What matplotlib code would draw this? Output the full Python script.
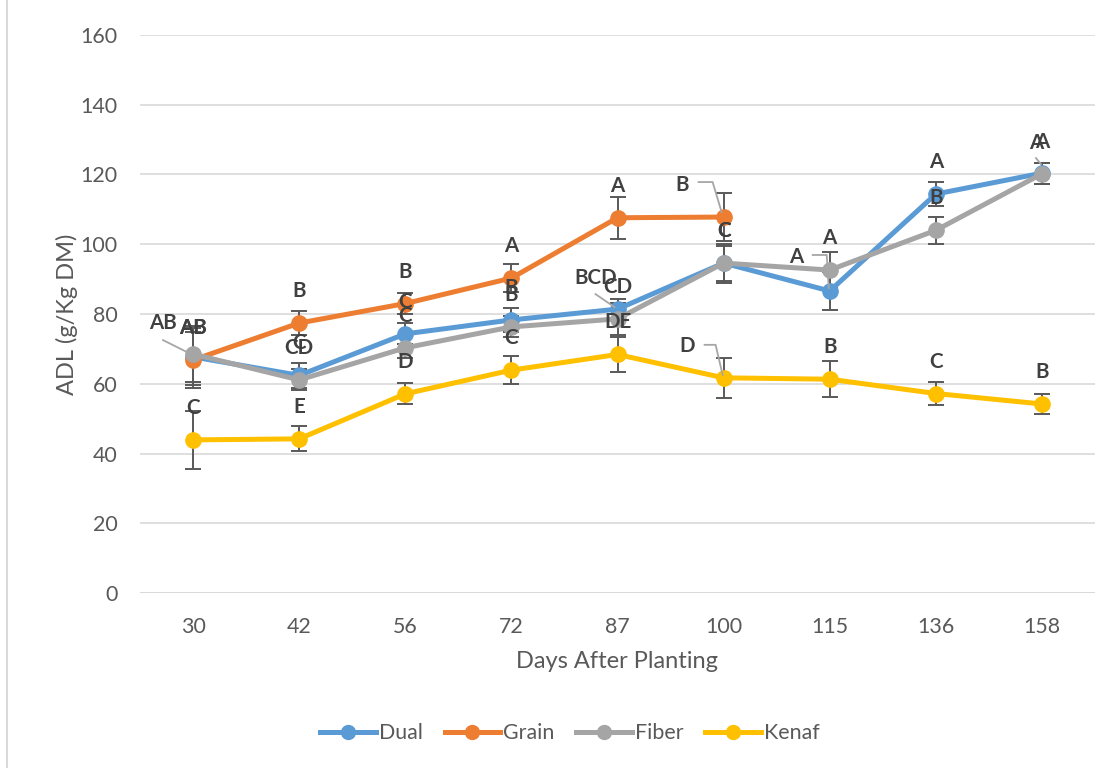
import matplotlib
matplotlib.use("Agg")
import matplotlib.pyplot as plt
from matplotlib.lines import Line2D
import numpy as np

plt.rcParams['font.family'] = ['Lato', 'DejaVu Sans']

days = ["30", "42", "56", "72", "87", "100", "115", "136", "158"]

dual = [67.7, 62.4, 74.3, 78.3, 81.4, 94.6, 86.6, 114.4, 120.4]
grain = [66.8, 77.4, 83.0, 90.3, 107.6, 107.8]
fiber = [68.5, 61.1, 70.3, 76.3, 78.6, 94.6, 92.6, 104.0, 120.2]
kenaf = [43.9, 44.2, 57.1, 63.9, 68.4, 61.7, 61.3, 57.2, 54.2]

dual_err = [8.2, 3.5, 3.0, 3.5, 3.0, 5.0, 5.5, 3.5, 3.0]
grain_err = [8.0, 3.5, 3.0, 4.0, 6.0, 6.8]
fiber_err = [8.0, 3.0, 3.0, 3.0, 4.5, 5.6, 5.2, 3.9, 3.0]
kenaf_err = [8.3, 3.6, 3.0, 4.0, 5.0, 5.8, 5.2, 3.2, 3.0]

dual_lab = ["AB", "C", "C", "B", "BCD", "C", "A", "A", "A"]
grain_lab = ["AB", "B", "B", "A", "A", "B"]
fiber_lab = ["AB", "CD", "C", "B", "CD", "C", "A", "B", "A"]
kenaf_lab = ["C", "E", "D", "C", "DE", "D", "B", "C", "B"]

series = [
    ("Dual", dual, dual_err, dual_lab, "#5B9BD5"),
    ("Grain", grain, grain_err, grain_lab, "#ED7D31"),
    ("Fiber", fiber, fiber_err, fiber_lab, "#A5A5A5"),
    ("Kenaf", kenaf, kenaf_err, kenaf_lab, "#FFC000"),
]

# labels pulled away from their points, with leader-line vertices (pixel offsets)
moved = {
    ("Fiber", 0): ((-30, 31), [(-30, 14), (-6, 2)]),
    ("Dual", 4): ((-22, 31), [(-22, 15), (-3, 2)]),
    ("Grain", 5): ((-41, 32), [(-25, 35), (-11, 35), (-2, 5)]),
    ("Kenaf", 5): ((-36, 32), [(-19, 33), (-8, 33), (-1, 3)]),
    ("Dual", 6): ((-33, 34), [(-17, 36), (-3, 36), (-1, 3)]),
    ("Dual", 8): ((-6, 30), [(-6, 15), (-1, 9)]),
    ("Dual", 0): ((0, 29), None),
}

fig = plt.figure(figsize=(11.13, 7.68), dpi=100)
ax = fig.add_axes([140 / 1113, 1 - 593 / 768, 955 / 1113, 558 / 768])

ax.set_xlim(-0.5, len(days) - 0.5)
ax.set_ylim(0, 160)
ax.set_yticks(np.arange(0, 161, 20))
ax.set_xticks(range(len(days)))
ax.set_xticklabels(days)
ax.grid(axis='y', color='#D9D9D9', linewidth=1.2)
ax.set_axisbelow(True)
for s in ax.spines.values():
    s.set_visible(False)
ax.axhline(0, color='#D9D9D9', linewidth=1.4, zorder=1)
ax.tick_params(axis='both', length=0, labelsize=15.4, colors='#595959')
ax.tick_params(axis='y', pad=16)
ax.tick_params(axis='x', pad=17)

ax.set_ylabel("ADL (g/Kg DM)", fontsize=17, color='#595959', labelpad=2)
ax.set_xlabel("Days After Planting", fontsize=17, color='#595959', labelpad=10)

handles = []
for i, (name, vals, errs, labs, col) in enumerate(series):
    x = np.arange(len(vals))
    ax.errorbar(x, vals, yerr=errs, fmt='none', ecolor='#595959',
                elinewidth=1.4, capsize=6, capthick=1.4, zorder=2 + i * 0.1)
    ax.plot(x, vals, color=col, linewidth=3.6, marker='o', markersize=11,
            zorder=3 + i * 0.1)
    handles.append(Line2D([0], [0], color=col, linewidth=3.6, marker='o',
                          markersize=10))

text_color = '#404040'
for name, vals, errs, labs, col in series:
    for j, (v, t) in enumerate(zip(vals, labs)):
        off, leader = moved.get((name, j), ((0, 32), None))
        ax.annotate(t, (j, v), xytext=off, textcoords='offset pixels',
                    ha='center', va='center', fontsize=14.8, fontweight='bold',
                    color=text_color, zorder=10)
        if leader:
            px, py = ax.transData.transform((j, v))
            xs = [px + d[0] for d in leader]
            ys = [py + d[1] for d in leader]
            fig.add_artist(Line2D(xs, ys, color='#A6A6A6', linewidth=1.3,
                                  transform=None, zorder=9))

fig.legend(handles, [s[0] for s in series], loc='center',
           bbox_to_anchor=(570 / 1113, 1 - 733 / 768), ncol=4, frameon=False,
           fontsize=15.4, handlelength=2.6, columnspacing=1.0,
           handletextpad=0.15, labelcolor='#595959')

fig.add_artist(Line2D([7, 7], [0, 768], color='#D9D9D9', linewidth=1.5,
                      transform=None))

fig.savefig("out.png", dpi=100)
